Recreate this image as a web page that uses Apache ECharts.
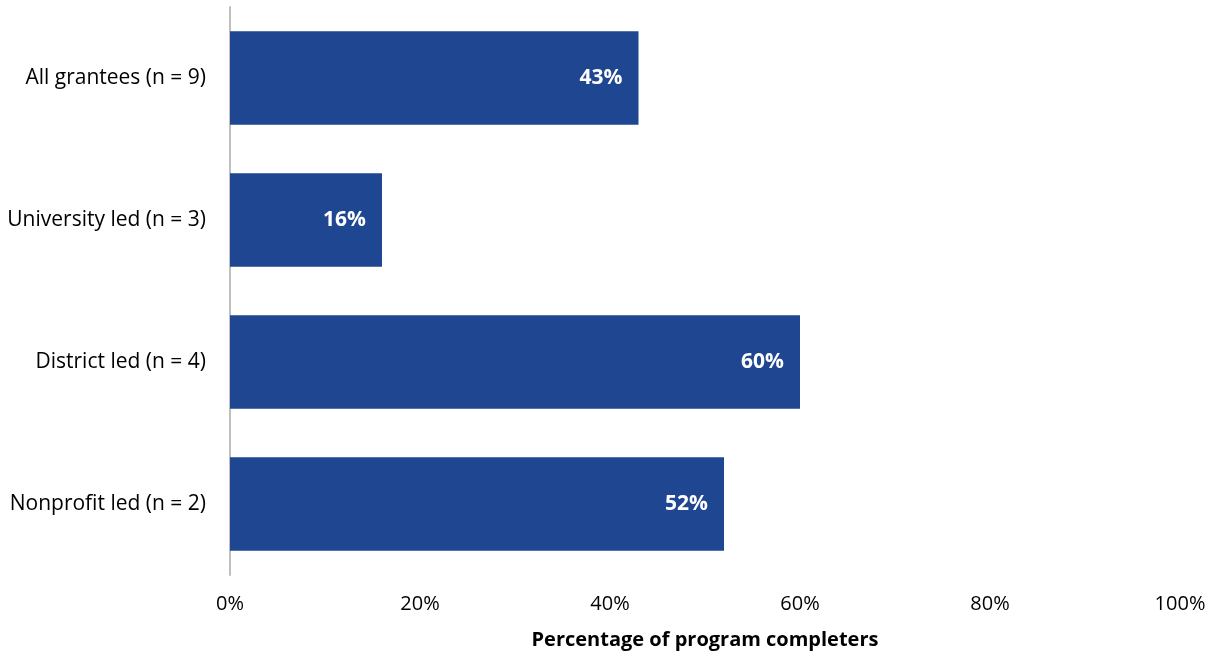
<!DOCTYPE html>
<html>
<head>
<meta charset="utf-8">
<script src="https://cdn.jsdelivr.net/npm/echarts@6/dist/echarts.min.js"></script>
<style>
  html, body { margin: 0; padding: 0; background: #ffffff; }
  #chart { width: 1215px; height: 656px; }
</style>
</head>
<body>
<div id="chart"></div>
<script>
// Grantee groups, listed top to bottom
const categories = [
  'All grantees (n = 9)',
  'University led (n = 3)',
  'District led (n = 4)',
  'Nonprofit led (n = 2)'
];
// Share of program completers, in percent
const completerPct = [43, 16, 60, 52];
const xTicks = [0, 20, 40, 60, 80, 100];
const xAxisTitle = 'Percentage of program completers';

const FONT = '"Open Sans", Lato, sans-serif';

const chart = echarts.init(document.getElementById('chart'), null, { renderer: 'canvas' });
chart.setOption({
  animation: false,
  backgroundColor: '#ffffff',
  grid: { left: 230, right: 35, top: 7, bottom: 81, containLabel: false },
  xAxis: {
    type: 'value',
    min: xTicks[0],
    max: xTicks[xTicks.length - 1],
    interval: xTicks[1] - xTicks[0],
    axisLine: { show: false },
    axisTick: { show: false },
    splitLine: { show: false },
    axisLabel: {
      formatter: v => v + '%',
      color: '#000000',
      fontSize: 20,
      fontFamily: FONT,
      margin: 19
    },
    name: xAxisTitle,
    nameLocation: 'middle',
    nameGap: 55,
    nameTextStyle: {
      color: '#000000',
      fontSize: 20,
      fontWeight: 'bold',
      fontFamily: FONT
    }
  },
  yAxis: {
    type: 'category',
    data: categories,
    inverse: true,
    axisLine: { show: true, lineStyle: { color: '#BFBFBF', width: 2 } },
    axisTick: { show: false },
    splitLine: { show: false },
    axisLabel: {
      color: '#000000',
      fontSize: 21,
      fontFamily: FONT,
      margin: 24
    }
  },
  series: [{
    type: 'bar',
    data: completerPct,
    barWidth: '66%',
    itemStyle: { color: '#1F4690' },
    label: {
      show: true,
      position: 'insideRight',
      distance: 16,
      formatter: p => p.value + '%',
      color: '#ffffff',
      fontSize: 21,
      fontWeight: 'bold',
      fontFamily: FONT
    }
  }]
});
</script>
</body>
</html>
